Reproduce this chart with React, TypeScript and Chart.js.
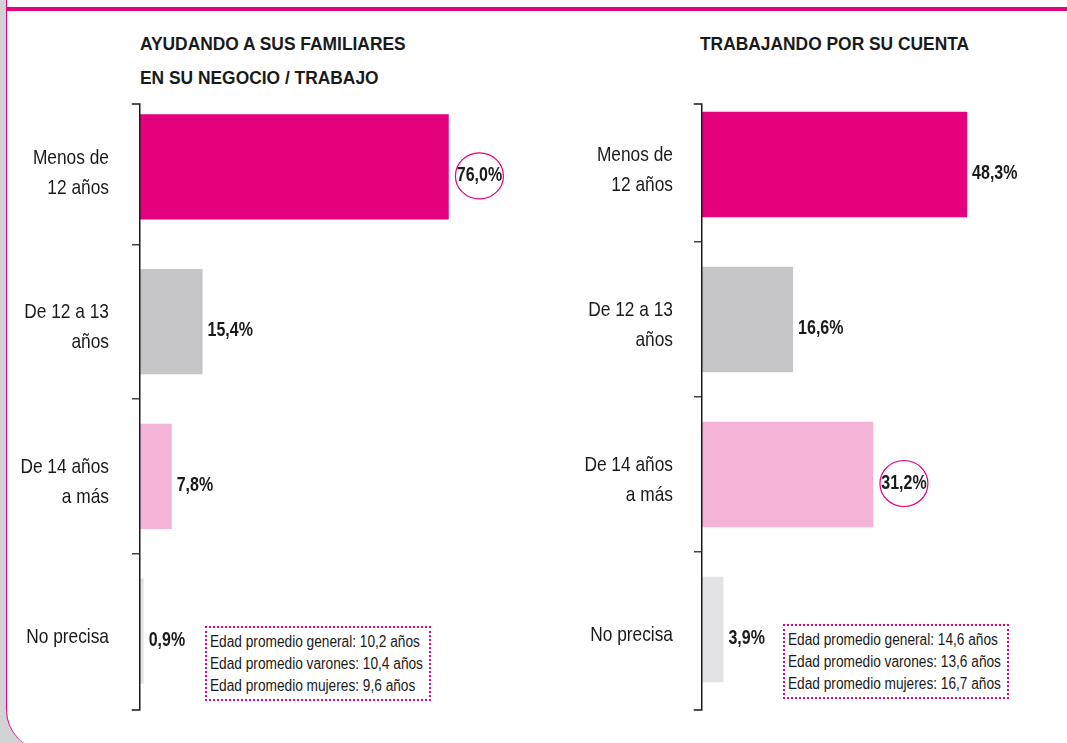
import React, { useEffect, useRef } from "react";
import { Chart, registerables } from "chart.js";

Chart.register(...registerables);

const FONT = '"Liberation Sans", Arial, sans-serif';

const categories = [["Menos de", "12 años"], ["De 12 a 13", "años"], ["De 14 años", "a más"], ["No precisa"]];
const familyValues = [76.0, 15.4, 7.8, 0.9];
const ownValues = [48.3, 16.6, 31.2, 3.9];
const barColors = ["#E5007D", "#C6C6C8", "#F6B3D8", "#E3E3E5"];
const familyTitle = ["AYUDANDO A SUS FAMILIARES", "EN SU NEGOCIO / TRABAJO"];
const ownTitle = ["TRABAJANDO POR SU CUENTA"];
const familyNotes = ["Edad promedio general: 10,2 años", "Edad promedio varones: 10,4 años", "Edad promedio mujeres: 9,6 años"];
const ownNotes = ["Edad promedio general: 14,6 años", "Edad promedio varones: 13,6 años", "Edad promedio mujeres: 16,7 años"];
const familyHighlight = 0;
const ownHighlight = 2;
const familyMax = 96;
const ownMax = 66.5;

const PINK = "#E5007D";
const TEXT = "#1a1a1a";

const fmt = (v: number) => v.toFixed(1).replace(".", ",") + "%";

function narrowText(ctx: CanvasRenderingContext2D, txt: string, x: number, y: number, sx: number) {
  ctx.save();
  ctx.translate(x, y);
  ctx.scale(sx, 1);
  ctx.fillText(txt, 0, 0);
  ctx.restore();
}

type PanelProps = {
  values: number[];
  max: number;
  highlight: number;
  left: number;
  width: number;
  yWidth: number;
  padTop: number;
  padBottom: number;
  labelGap: number;
};

function Panel(p: PanelProps) {
  const ref = useRef<HTMLCanvasElement | null>(null);
  useEffect(() => {
    if (!ref.current) return;
    const deco = {
      id: "deco",
      afterDraw(chart: any) {
        const ctx = chart.ctx as CanvasRenderingContext2D;
        const area = chart.chartArea;
        ctx.save();
        // axis line with caps
        const x = area.left - 0.25;
        ctx.strokeStyle = TEXT;
        ctx.lineWidth = 1.5;
        ctx.beginPath();
        ctx.moveTo(x - 8, 104);
        ctx.lineTo(x, 104);
        ctx.lineTo(x, 710);
        ctx.lineTo(x - 8, 710);
        ctx.stroke();
        // category labels
        const yScale = chart.scales.y;
        ctx.fillStyle = TEXT;
        ctx.textAlign = "right";
        ctx.textBaseline = "middle";
        ctx.font = `21px ${FONT}`;
        categories.forEach((lines, i) => {
          const cy = yScale.getPixelForTick(i) + 6;
          const lh = 30;
          const y0 = cy - ((lines.length - 1) * lh) / 2;
          lines.forEach((l, j) => narrowText(ctx, l, area.left - p.labelGap, y0 + j * lh, 0.825));
        });
        // value labels
        const meta = chart.getDatasetMeta(0);
        ctx.font = `bold 20px ${FONT}`;
        ctx.textAlign = "left";
        const sx = 0.8;
        meta.data.forEach((el: any, i: number) => {
          const txt = fmt(p.values[i]);
          const tx = el.x + (i === p.highlight ? 8 : 5);
          const ty = el.y + 9;
          narrowText(ctx, txt, tx, ty, sx);
          if (i === p.highlight) {
            const w = ctx.measureText(txt).width * sx;
            ctx.beginPath();
            ctx.strokeStyle = PINK;
            ctx.lineWidth = 1.2;
            ctx.ellipse(tx + w / 2, ty, 24, 23, 0, 0, Math.PI * 2);
            ctx.stroke();
          }
        });
        ctx.restore();
      },
    };
    const chart = new Chart(ref.current, {
      type: "bar",
      data: {
        labels: categories,
        datasets: [
          {
            data: p.values,
            backgroundColor: barColors,
            barPercentage: 0.68,
            categoryPercentage: 1,
          },
        ],
      },
      options: {
        indexAxis: "y",
        responsive: false,
        animation: false,
        layout: { padding: { top: p.padTop, bottom: p.padBottom, left: 0, right: 0 } },
        plugins: { legend: { display: false }, tooltip: { enabled: false } },
        scales: {
          x: { display: false, min: 0, max: p.max },
          y: {
            afterFit: (s: any) => {
              s.width = p.yWidth;
              s.paddingTop = 0;
              s.paddingBottom = 0;
            },
            border: { display: false },
            grid: {
              drawOnChartArea: false,
              drawTicks: true,
              tickLength: 8,
              lineWidth: 1.5,
              color: (c: any) => (c.type === "tick" && c.index > 0 ? "#444" : "rgba(0,0,0,0)"),
            },
            ticks: { display: false },
          },
        },
      },
      plugins: [deco],
    } as any);
    return () => chart.destroy();
  }, []);
  return (
    <canvas
      ref={ref}
      width={p.width}
      height={743}
      style={{ position: "absolute", left: p.left, top: 0, width: p.width, height: 743 }}
    />
  );
}

function Narrow({ text, sx }: { text: string; sx: number }) {
  return (
    <div style={{ whiteSpace: "nowrap" }}>
      <span style={{ display: "inline-block", transform: `scaleX(${sx})`, transformOrigin: "left center" }}>
        {text}
      </span>
    </div>
  );
}

function Title({ lines, left }: { lines: string[]; left: number }) {
  return (
    <div
      style={{
        position: "absolute",
        left,
        top: 27,
        fontFamily: FONT,
        fontWeight: "bold",
        fontSize: 19,
        lineHeight: "34px",
        color: TEXT,
      }}
    >
      {lines.map((l, i) => (
        <Narrow key={i} text={l} sx={0.915} />
      ))}
    </div>
  );
}

function Notes({ lines, left, top }: { lines: string[]; left: number; top: number }) {
  return (
    <div
      style={{
        position: "absolute",
        left,
        top,
        width: 226,
        height: 75,
        boxSizing: "border-box",
        border: `2px dotted ${PINK}`,
        padding: "3px 3px",
        fontFamily: FONT,
        fontSize: 16,
        lineHeight: "22px",
        color: TEXT,
        background: "#fff",
      }}
    >
      {lines.map((l, i) => (
        <Narrow key={i} text={l} sx={0.855} />
      ))}
    </div>
  );
}

export default function App() {
  return (
    <div
      style={{
        position: "fixed",
        left: 0,
        top: 0,
        width: 1067,
        height: 743,
        background: "#D1D2D4",
        overflow: "hidden",
      }}
    >
      <div
        style={{
          position: "absolute",
          left: 6,
          top: 0,
          width: 1070,
          height: 750,
          background: "#fff",
          borderLeft: `1.5px solid ${PINK}`,
          borderBottomLeftRadius: 40,
          boxSizing: "border-box",
        }}
      />
      <div style={{ position: "absolute", left: 7, top: 7, width: 1060, height: 4, background: PINK }} />
      <Title lines={familyTitle} left={140} />
      <Title lines={ownTitle} left={700} />
      <Panel
        values={familyValues}
        max={familyMax}
        highlight={familyHighlight}
        left={0}
        width={530}
        yWidth={140}
        padTop={89.5}
        padBottom={34.5}
        labelGap={31}
      />
      <Panel
        values={ownValues}
        max={ownMax}
        highlight={ownHighlight}
        left={540}
        width={527}
        yWidth={162}
        padTop={87}
        padBottom={36}
        labelGap={29}
      />
      <Notes lines={familyNotes} left={205} top={626} />
      <Notes lines={ownNotes} left={783} top={624} />
    </div>
  );
}
